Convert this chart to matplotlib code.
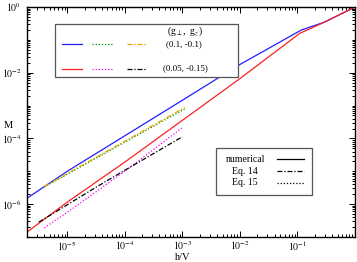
import numpy as np
import matplotlib
matplotlib.use("Agg")
import matplotlib.pyplot as plt
from matplotlib.lines import Line2D
from matplotlib.patches import Rectangle
from matplotlib.ticker import LogLocator, NullFormatter

plt.rcParams['font.family'] = ['Liberation Serif', 'DejaVu Serif']
plt.rcParams['mathtext.fontset'] = 'stix'

# ---- data ----
blue_num_x = [2e-6, 1e-5, 1e-4, 1e-3, 1e-2, 0.117, 0.295, 1.0]
blue_num_y = [10**-5.82, 10**-5.0, 10**-3.92, 10**-2.84, 10**-1.75, 10**-0.70, 10**-0.46, 1.0]
red_num_x = [2e-6, 1e-5, 1e-4, 1e-3, 1e-2, 0.11, 0.28, 1.0]
red_num_y = [10**-6.85, 10**-5.94, 10**-4.72, 10**-3.45, 10**-2.18, 10**-0.80, 10**-0.48, 1.0]

blue_eq15_x = [4e-6, 1.1e-3]
blue_eq15_y = [10**-5.48, 10**-3.10]
blue_eq14_x = [4e-6, 1.1e-3]
blue_eq14_y = [10**-5.46, 10**-3.06]

red_eq15_x = [4e-6, 1e-5, 1e-4, 1e-3]
red_eq15_y = [10**-6.72, 10**-6.25, 10**-5.00, 10**-3.67]
red_eq14_x = [3.2e-6, 3.2e-5, 1e-4, 1e-3]
red_eq14_y = [10**-6.55, 10**-5.48, 10**-4.97, 10**-3.95]

x_tick_vals = [1e-5, 1e-4, 1e-3, 1e-2, 1e-1]
x_tick_labels = [r'$10^{-5}$', r'$10^{-4}$', r'$10^{-3}$', r'$10^{-2}$', r'$10^{-1}$']
y_tick_vals = [1e-6, 1e-4, 1e-2, 1e0]
y_tick_labels = [r'$10^{-6}$', r'$10^{-4}$', r'$10^{-2}$', r'$10^{0}$']

fig = plt.figure(figsize=(3.57, 2.62), dpi=100)
ax = fig.add_axes([27/357, 1-237/262, 328/357, 230/262])

ax.plot(blue_num_x, blue_num_y, color='#2020ff', lw=0.9)
ax.plot(red_num_x, red_num_y, color='#ff2020', lw=0.9)
ax.plot(blue_eq15_x, blue_eq15_y, color='#00a000', lw=0.9, ls=(0, (1, 1.5)))
ax.plot(blue_eq14_x, blue_eq14_y, color='#f0a000', lw=0.9, ls=(0, (4, 1.5, 1, 1.5)))
ax.plot(red_eq15_x, red_eq15_y, color='#ff00ff', lw=0.9, ls=(0, (1, 1.5)))
ax.plot(red_eq14_x, red_eq14_y, color='black', lw=0.9, ls=(0, (4, 1.5, 1, 1.5)))

ax.set_xscale('log')
ax.set_yscale('log')
ax.set_xlim(2e-6, 1.0)
ax.set_ylim(1e-7, 1.0)

ax.xaxis.set_minor_locator(LogLocator(base=10, subs=np.arange(2, 10), numticks=50))
ax.yaxis.set_minor_locator(LogLocator(base=10, subs=np.arange(1, 10), numticks=50))
ax.xaxis.set_minor_formatter(NullFormatter())
ax.yaxis.set_minor_formatter(NullFormatter())
ax.set_xticks(x_tick_vals)
ax.set_xticklabels(x_tick_labels)
ax.set_yticks(y_tick_vals)
ax.set_yticklabels(y_tick_labels)

ax.tick_params(which='both', direction='in', top=True, right=True, labelsize=7, width=0.7)
ax.tick_params(which='major', length=4.5)
ax.tick_params(axis='x', which='major', pad=1.5)
ax.tick_params(axis='y', which='major', pad=4)
ax.tick_params(which='minor', length=2.2)
for s in ax.spines.values():
    s.set_linewidth(1.0)

fig.text(8/357, 1-125/262, 'M', fontsize=7.5, ha='center', va='center')
fig.text(183/357, 1-258/262, 'h/V', fontsize=7.5, ha='center', va='center')

T = ax.transAxes
# legend 1
ax.add_patch(Rectangle((0.085, 0.696), 0.643-0.085, 0.926-0.696, transform=T,
                       fill=True, facecolor='white', edgecolor='#555555', lw=0.9, zorder=5))
ax.text(0.427, 0.895, r'(g$_{\perp}$,  g$_z$)', transform=T, fontsize=7, ha='left', va='center', zorder=6)
r1, r2 = 0.838, 0.732
ax.add_line(Line2D([0.107, 0.168], [r1, r1], transform=T, color='#2020ff', lw=0.9, zorder=6))
ax.add_line(Line2D([0.198, 0.262], [r1, r1], transform=T, color='#00a000', lw=0.9, ls=(0, (1, 1.5)), zorder=6))
ax.add_line(Line2D([0.305, 0.363], [r1, r1], transform=T, color='#f0a000', lw=0.9, ls=(0, (4, 1.5, 1, 1.5)), zorder=6))
ax.text(0.425, r1, '(0.1, -0.1)', transform=T, fontsize=6.5, ha='left', va='center', zorder=6)
ax.add_line(Line2D([0.107, 0.168], [r2, r2], transform=T, color='#ff2020', lw=0.9, zorder=6))
ax.add_line(Line2D([0.198, 0.262], [r2, r2], transform=T, color='#ff00ff', lw=0.9, ls=(0, (1, 1.5)), zorder=6))
ax.add_line(Line2D([0.305, 0.363], [r2, r2], transform=T, color='black', lw=0.9, ls=(0, (4, 1.5, 1, 1.5)), zorder=6))
ax.text(0.415, r2, '(0.05, -0.15)', transform=T, fontsize=6.5, ha='left', va='center', zorder=6)

# legend 2
ax.add_patch(Rectangle((0.576, 0.183), 0.869-0.576, 0.387-0.183, transform=T,
                       fill=True, facecolor='white', edgecolor='#555555', lw=0.9, zorder=5))
rows = [0.339, 0.285, 0.235]
labels2 = ['numerical', 'Eq. 14', 'Eq. 15']
styles2 = ['-', (0, (4, 1.5, 1, 1.5)), (0, (1, 1.5))]
for yy, lab, st in zip(rows, labels2, styles2):
    ax.text(0.665, yy, lab, transform=T, fontsize=7, ha='center', va='center', zorder=6)
    ax.add_line(Line2D([0.762, 0.845], [yy, yy], transform=T, color='black', lw=0.9, ls=st, zorder=6))

fig.savefig('out.png', dpi=100)
